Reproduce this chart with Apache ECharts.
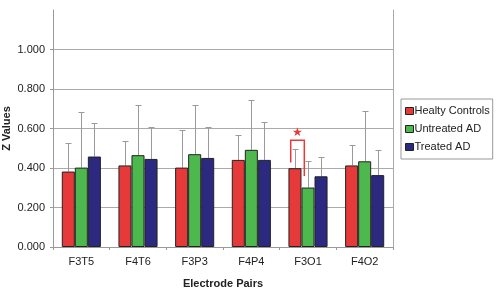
<!DOCTYPE html>
<html lang="en">
<head>
    <meta charset="UTF-8">
    <title>Z Values by Electrode Pair</title>
    <style>
        html, body { margin: 0; padding: 0; background: #fff; }
        #chart { width: 500px; height: 291px; }
    </style>
</head>
<body>
    <div id="chart"></div>
    <script src="https://cdn.jsdelivr.net/npm/echarts@6/dist/echarts.min.js"></script>
    <script>
        // data
        const pairs = ['F3T5', 'F4T6', 'F3P3', 'F4P4', 'F3O1', 'F4O2'];
        const groupNames = ['Healty Controls', 'Untreated AD', 'Treated AD'];
        const healthy = [0.382, 0.413, 0.402, 0.441, 0.399, 0.413];
        const untreated = [0.402, 0.465, 0.470, 0.492, 0.301, 0.434];
        const treated = [0.458, 0.446, 0.451, 0.441, 0.358, 0.364];
        // top of each error bar
        const healthyErr = [0.527, 0.535, 0.591, 0.569, 0.497, 0.517];
        const untreatedErr = [0.683, 0.717, 0.721, 0.742, 0.436, 0.688];
        const treatedErr = [0.628, 0.608, 0.608, 0.631, 0.455, 0.491];
        const yTicks = [0, 0.2, 0.4, 0.6, 0.8, 1.0];
        // significance bracket (F3O1: healthy vs untreated)
        const bracketPair = 'F3O1';
        const bracketTop = 0.540;
        const bracketLeftEnd = 0.428;
        const bracketRightEnd = 0.360;

        const colors = ['#e63a3a', '#4db84d', '#2b2a80'];
        const barShare = 0.23; // bar width as share of the category band

        const chart = echarts.init(document.getElementById('chart'));

        const values = [healthy, untreated, treated];
        const errs = [healthyErr, untreatedErr, treatedErr];

        const barSeries = groupNames.map(function (name, i) {
            return {
                name: name,
                type: 'bar',
                barWidth: (barShare * 100) + '%',
                barGap: '0%',
                itemStyle: { color: colors[i], borderColor: '#222', borderWidth: 1 },
                data: values[i],
                z: 3
            };
        });

        const errSeries = groupNames.map(function (name, i) {
            return {
                type: 'custom',
                silent: true,
                z: 2,
                data: pairs.map(function (p, k) { return [k, values[i][k], errs[i][k]]; }),
                renderItem: function (params, api) {
                    const band = api.size([1, 0])[0];
                    const base = api.coord([api.value(0), api.value(1)]);
                    const top = api.coord([api.value(0), api.value(2)]);
                    const x = Math.round(base[0] + (i - 1) * band * barShare) + 0.5;
                    const yt = Math.round(top[1]) + 0.5;
                    const style = { stroke: '#9a9a9a', lineWidth: 1 };
                    return {
                        type: 'group',
                        children: [
                            { type: 'line', shape: { x1: x, y1: base[1], x2: x, y2: yt }, style: style },
                            { type: 'line', shape: { x1: x - 3, y1: yt, x2: x + 3, y2: yt }, style: style }
                        ]
                    };
                }
            };
        });

        const bracketSeries = {
            type: 'custom',
            silent: true,
            z: 5,
            data: [[pairs.indexOf(bracketPair), bracketTop, bracketLeftEnd, bracketRightEnd]],
            renderItem: function (params, api) {
                const band = api.size([1, 0])[0];
                const c = api.coord([api.value(0), api.value(1)]);
                const yl = api.coord([api.value(0), api.value(2)])[1];
                const yr = api.coord([api.value(0), api.value(3)])[1];
                const xl = c[0] - band * 0.305;
                const xr = c[0] - band * 0.065;
                const style = { stroke: '#e63a3a', lineWidth: 1.5, fill: null };
                return {
                    type: 'group',
                    children: [
                        { type: 'polyline', shape: { points: [[xl, yl], [xl, c[1]], [xr, c[1]], [xr, yr]] }, style: style },
                        {
                            type: 'text',
                            x: (xl + xr) / 2, y: c[1] - 8,
                            style: { text: '★', fill: '#e63a3a', fontSize: 12, align: 'center', verticalAlign: 'middle' }
                        }
                    ]
                };
            }
        };

        chart.setOption({
            animation: false,
            backgroundColor: '#fff',
            textStyle: { fontFamily: 'Liberation Sans, Arial, sans-serif' },
            grid: { left: 53, right: 107, top: 10, bottom: 44, outerBoundsMode: 'none' },
            legend: {
                data: groupNames,
                orient: 'vertical',
                left: 401,
                top: 99,
                padding: [5, 3, 5, 4],
                itemGap: 4,
                itemWidth: 8,
                itemHeight: 7,
                icon: 'rect',
                borderColor: '#999',
                borderWidth: 1,
                itemStyle: { borderColor: '#222', borderWidth: 1 },
                textStyle: { fontSize: 11, color: '#222', lineHeight: 14, padding: [0, 0, 0, -4] }
            },
            xAxis: {
                type: 'category',
                data: pairs,
                name: 'Electrode Pairs',
                nameLocation: 'middle',
                nameGap: 31,
                nameMoveOverlap: false,
                nameTextStyle: { fontSize: 11, fontWeight: 'bold', color: '#222' },
                axisLine: { lineStyle: { color: '#999' } },
                axisTick: { show: true, length: 3, lineStyle: { color: '#999' } },
                axisLabel: { fontSize: 11, color: '#222', margin: 9 }
            },
            yAxis: [{
                type: 'value',
                min: 0,
                max: 1.2,
                interval: 0.2,
                name: 'Z Values',
                nameLocation: 'middle',
                nameGap: 41,
                nameMoveOverlap: false,
                nameTextStyle: { fontSize: 11, fontWeight: 'bold', color: '#222' },
                axisLine: { show: true, lineStyle: { color: '#999' } },
                axisTick: { show: true, length: 3, lineStyle: { color: '#999' } },
                axisLabel: {
                    fontSize: 11, color: '#222', margin: 8, showMaxLabel: false,
                    formatter: function (v) { return yTicks.indexOf(Math.round(v * 10) / 10) >= 0 ? v.toFixed(3) : ''; }
                },
                splitLine: { show: true, showMaxLine: false, lineStyle: { color: '#aaa' } }
            }, {
                type: 'value',
                position: 'right',
                min: 0,
                max: 1.2,
                axisLine: { show: true, lineStyle: { color: '#aaa' } },
                axisTick: { show: false },
                axisLabel: { show: false },
                splitLine: { show: false }
            }],
            series: errSeries.concat(barSeries, [bracketSeries])
        });
    </script>
</body>
</html>
